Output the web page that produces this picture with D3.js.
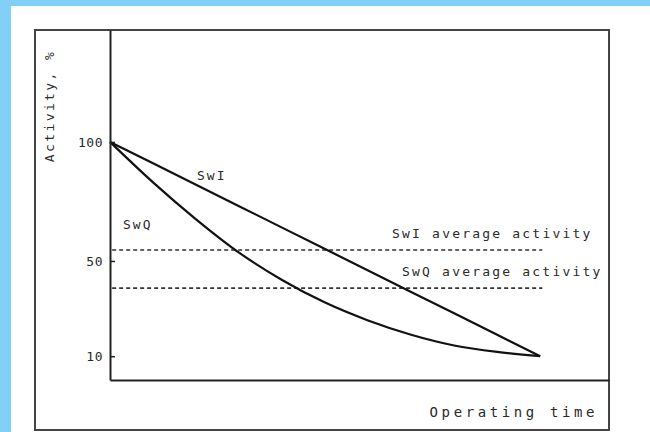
<!DOCTYPE html>
<html>
<head>
<meta charset="utf-8">
<script src="https://cdn.jsdelivr.net/npm/d3@7"></script>
<style>
    body { margin: 0; padding: 0; background: #84cff7; }
    #ACT_graph { width: 650px; height: 432px; }
    .line { fill: none; stroke: #111; stroke-width: 2.2; }
    .avg { fill: none; stroke: #333; stroke-width: 1.6; stroke-dasharray: 4,3; }
    .mono { font-family: "DejaVu Sans Mono", "Liberation Mono", monospace; fill: #2a2a2a; }
    .axis path, .axis line { stroke: #222; stroke-width: 2; }
</style>
</head>
<body>
<div id="ACT_graph"></div>
<script>
// Datos
var operating_time = [0, 0.1, 0.2, 0.3, 0.4, 0.5, 0.6, 0.7, 0.8, 0.9, 1.0];
var swi_activity = [100, 91, 82, 73, 64, 55, 46, 37, 28, 19, 10];
var swq_activity = [100, 83, 67.5, 53.5, 42, 32.5, 25, 19, 14.5, 11.8, 10];
var avg_labels = ["SwI average activity", "SwQ average activity"];
var avg_values = [54.6, 38.6];
var y_ticks = [10, 50, 100];

var width = 650, height = 432;

var x = d3.scaleLinear().domain([0, 1.16]).range([110, 609]);
var y = d3.scaleLinear().domain([0, 147]).range([380, 30]);

var valueline_1 = d3.line()
    .x(function(d){return x(d.t)})
    .y(function(d){return y(d.v)});

var valueline_2 = d3.line()
    .curve(d3.curveCatmullRom)
    .x(function(d){return x(d.t)})
    .y(function(d){return y(d.v)});

var data_swi = operating_time.map(function(t,i){return {t:t, v:swi_activity[i]}});
var data_swq = operating_time.map(function(t,i){return {t:t, v:swq_activity[i]}});

var act_graph = d3.select("#ACT_graph")
    .append("svg")
    .attr("width", width)
    .attr("height", height);

// fondo blanco del escaneo
act_graph.append("rect")
    .attr("x", 11)
    .attr("y", 6)
    .attr("width", width - 11)
    .attr("height", height - 6)
    .attr("fill", "#fff");

// marco exterior
act_graph.append("rect")
    .attr("x", 35)
    .attr("y", 30)
    .attr("width", 574)
    .attr("height", 400)
    .attr("fill", "none")
    .attr("stroke", "#444")
    .attr("stroke-width", 2);

// lineas de actividad media
act_graph.selectAll(".avg")
    .data(avg_values)
    .enter().append("line")
    .attr("class", "avg")
    .attr("x1", x(0.005))
    .attr("x2", x(1.005))
    .attr("y1", function(d){return y(d)})
    .attr("y2", function(d){return y(d)});

act_graph.append("path")
    .attr("class", "line")
    .attr("id", "line_1")
    .attr("d", valueline_1(data_swi));

act_graph.append("path")
    .attr("class", "line")
    .attr("id", "line_2")
    .attr("d", valueline_2(data_swq));

// Add the X Axis
act_graph.append("g")
    .attr("class", "x axis")
    .attr("transform", "translate(0," + y(0) + ")")
    .call(d3.axisBottom(x).tickValues([]).tickSizeOuter(0));

// Add the Y Axis
var yAxis = act_graph.append("g")
    .attr("class", "y axis")
    .attr("transform", "translate(" + x(0) + ",0)")
    .call(d3.axisLeft(y).tickValues(y_ticks).tickSize(-5).tickSizeOuter(0).tickPadding(7));

yAxis.selectAll("text")
    .attr("class", "mono")
    .style("font-size", "13px")
    .style("letter-spacing", "0.5px")
    .attr("dy", ".35em");

yAxis.selectAll(".tick line").style("stroke-width", 1.5);

// etiquetas
act_graph.append("text")
    .attr("class", "mono")
    .attr("x", 197)
    .attr("y", 180)
    .style("font-size", "13px")
    .style("letter-spacing", "2px")
    .text("SwI");

act_graph.append("text")
    .attr("class", "mono")
    .attr("x", 123)
    .attr("y", 229)
    .style("font-size", "13px")
    .style("letter-spacing", "2px")
    .text("SwQ");

act_graph.selectAll(".avg_label")
    .data(avg_labels)
    .enter().append("text")
    .attr("class", "mono avg_label")
    .attr("x", function(d,i){return i == 0 ? 392 : 402})
    .attr("y", function(d,i){return y(avg_values[i]) - 12})
    .style("font-size", "13px")
    .style("letter-spacing", "2.2px")
    .text(function(d){return d});

act_graph.append("text")
    .attr("class", "mono")
    .attr("x", 598)
    .attr("y", 417)
    .attr("text-anchor", "end")
    .style("font-size", "14px")
    .style("letter-spacing", "3.6px")
    .text("Operating time");

act_graph.append("text")
    .attr("class", "mono")
    .attr("transform", "translate(54,106) rotate(-90)")
    .attr("text-anchor", "middle")
    .style("font-size", "13px")
    .style("letter-spacing", "2.4px")
    .text("Activity, %");
</script>
</body>
</html>
